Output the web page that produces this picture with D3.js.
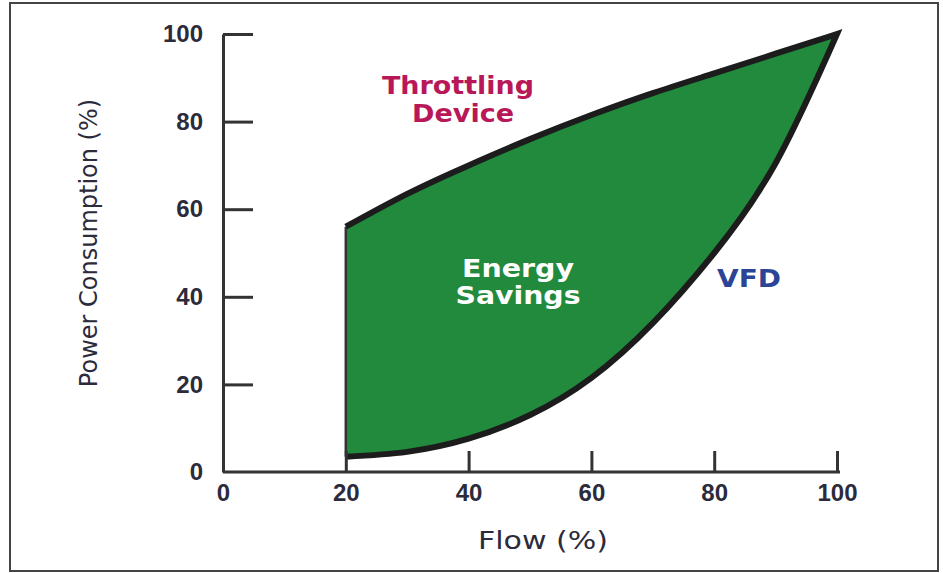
<!DOCTYPE html>
<html lang="en">
<head>
    <meta charset="UTF-8">
    <title>Energy Savings</title>
    <script src="https://d3js.org/d3.v7.min.js"></script>
    <style>
        body {
            margin: 0;
            font-family: "DejaVu Sans", Arial, sans-serif;
            background: #fff;
        }

        .tick text {
            font-size: 24px;
            font-weight: bold;
            fill: #2b2b3b;
        }

        .axis-label {
            font-size: 24px;
            fill: #2b2b3b;
        }
    </style>
</head>
<body>
    <svg width="943" height="573" id="svg"></svg>

    <script>
        // values (flow %, power %)
        const flow = [20, 30, 40, 50, 60, 70, 80, 90, 100];
        const throttling = [56, 63.5, 70, 76, 81.5, 86.5, 91, 95.5, 100];
        const vfd = [3.5, 4.6, 7.6, 13, 21.5, 34, 50, 70.5, 100];
        const xTicks = [0, 20, 40, 60, 80, 100];
        const yTicks = [0, 20, 40, 60, 80, 100];

        const svg = d3.select("#svg");

        // frame
        svg.append("rect")
            .attr("x", 10).attr("y", 3)
            .attr("width", 928).attr("height", 568)
            .attr("fill", "none")
            .attr("stroke", "#444")
            .attr("stroke-width", 2);

        const x = d3.scaleLinear().domain([0, 100]).range([223, 837]);
        const y = d3.scaleLinear().domain([0, 100]).range([472, 34]);

        const thrPts = flow.map((f, i) => [f, throttling[i]]);
        const vfdPts = flow.map((f, i) => [f, vfd[i]]);

        // shaded savings area
        const area = d3.area()
            .x((d, i) => x(flow[i]))
            .y0((d, i) => y(vfd[i]))
            .y1((d, i) => y(throttling[i]))
            .curve(d3.curveNatural);

        svg.append("path")
            .attr("d", area(flow))
            .attr("fill", "#218a3d");

        // left edge of the area
        svg.append("line")
            .attr("x1", x(flow[0])).attr("x2", x(flow[0]))
            .attr("y1", y(vfd[0])).attr("y2", y(throttling[0]))
            .attr("stroke", "#333")
            .attr("stroke-width", 2.5);

        // both curves as one path so they meet in a sharp tip
        const line = d3.line()
            .x(d => x(d[0]))
            .y(d => y(d[1]))
            .curve(d3.curveNatural);

        const outline = line(vfdPts) + line(thrPts.slice().reverse()).replace(/^M/, "L");
        svg.append("path")
            .attr("d", outline)
            .attr("fill", "none")
            .attr("stroke", "#1c1c1c")
            .attr("stroke-width", 6)
            .attr("stroke-linejoin", "miter")
            .attr("stroke-miterlimit", 20);

        // axes
        const xAxis = d3.axisBottom(x)
            .tickValues(xTicks)
            .tickSizeInner(-21)
            .tickSizeOuter(0)
            .tickPadding(12);

        const yAxis = d3.axisLeft(y)
            .tickValues(yTicks)
            .tickSizeInner(-30)
            .tickSizeOuter(0)
            .tickPadding(20);

        const gx = svg.append("g")
            .attr("transform", `translate(0,${y(0)})`)
            .call(xAxis);

        const gy = svg.append("g")
            .attr("transform", `translate(${x(0)},0)`)
            .call(yAxis);

        [gx, gy].forEach(g => {
            g.select(".domain").attr("stroke", "#333").attr("stroke-width", 3);
            g.selectAll(".tick line").attr("stroke", "#333").attr("stroke-width", 3);
            g.selectAll(".tick").filter(d => d === 0).select("line").remove();
            g.selectAll(".tick text").attr("font-family", null).attr("font-size", null);
        });
        gx.select(".domain").attr("d", `M${x(0)},0H${x(100) + 3}`);

        // axis titles
        svg.append("text")
            .attr("class", "axis-label")
            .attr("x", 543)
            .attr("y", 549)
            .attr("text-anchor", "middle")
            .attr("font-size", 26)
            .attr("textLength", 130)
            .attr("lengthAdjust", "spacingAndGlyphs")
            .text("Flow (%)");

        svg.append("text")
            .attr("class", "axis-label")
            .attr("transform", "rotate(-90)")
            .attr("x", -243)
            .attr("y", 97)
            .attr("text-anchor", "middle")
            .text("Power Consumption (%)");

        // annotations
        const notes = [
            { t: "Throttling", x: 458, y: 94, c: "#b81858", s: 25, w: 152 },
            { t: "Device", x: 463, y: 122, c: "#b81858", s: 25, w: 102 },
            { t: "Energy", x: 518, y: 277, c: "#ffffff", s: 24, w: 112 },
            { t: "Savings", x: 518, y: 304, c: "#ffffff", s: 24, w: 125 },
            { t: "VFD", x: 749, y: 287, c: "#2b4496", s: 25, w: 64 }
        ];

        svg.selectAll(".note")
            .data(notes)
            .enter()
            .append("text")
            .attr("class", "note")
            .attr("x", d => d.x)
            .attr("y", d => d.y)
            .attr("text-anchor", "middle")
            .attr("font-size", d => d.s)
            .attr("font-weight", "bold")
            .attr("textLength", d => d.w)
            .attr("lengthAdjust", "spacingAndGlyphs")
            .attr("fill", d => d.c)
            .text(d => d.t);
    </script>
</body>
</html>
